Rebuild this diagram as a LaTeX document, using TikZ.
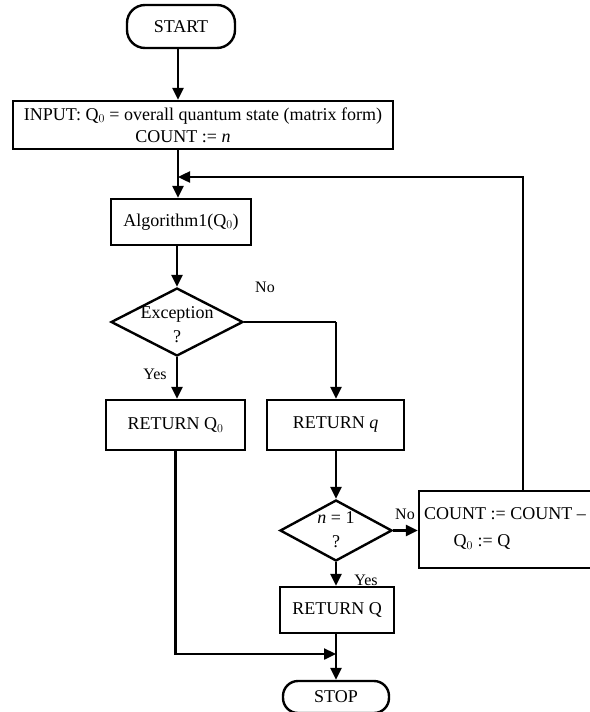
\documentclass[tikz,border=0pt]{standalone}
\usepackage{fontspec}
\setmainfont{Liberation Serif}
\usetikzlibrary{shapes.geometric,arrows.meta}
\begin{document}
\begin{tikzpicture}[x=1pt,y=-1pt,
  every node/.style={font=\fontsize{18}{24}\selectfont},
  box/.style={draw, line width=2.4pt, rectangle, inner sep=0pt},
  term/.style={draw, line width=2.4pt, rectangle, rounded corners=18pt, inner sep=0pt},
  dia/.style={draw, line width=2.4pt, diamond, inner sep=0pt},
  lbl/.style={inner sep=0pt, font=\fontsize{16}{18}\selectfont},
  arr/.style={line width=2.4pt, -{Triangle[length=12pt,width=11pt]}},
  ln/.style={line width=2.4pt}]
\useasboundingbox (0,0) rectangle (589,712);
% nodes
\node[term, minimum width=108pt, minimum height=43pt] (start) at (181,26.5) {START};
\node[box, minimum width=380pt, minimum height=48pt, align=center] (input) at (203,125)
  {INPUT: Q$_0$ = overall quantum state (matrix form)\\[-2pt]\hspace*{-40pt}COUNT := \textit{n}};
\node[box, minimum width=140pt, minimum height=46pt] (alg) at (181,222) {Algorithm1(Q$_0$)};
\node[dia, minimum width=132pt, minimum height=68pt] (exc) at (177,322) {};
\node[align=center, inner sep=0pt] (exct) at (177,325) {Exception\\?};
\node[box, minimum width=139pt, minimum height=50pt] (ret0) at (175.5,425) {RETURN Q$_0$};
\node[box, minimum width=137pt, minimum height=50pt] (retq) at (335.5,425) {RETURN \textit{q}};
\node[dia, minimum width=112pt, minimum height=61pt] (cnd) at (336,530.5) {};
\node[align=center, inner sep=0pt] (cndt) at (336,530) {\textit{n} = 1\\?};
\node[box, minimum width=186pt, minimum height=77pt] (count) at (512,529.5) {};
\node[anchor=west, inner sep=0pt] (countt1) at (424,514) {COUNT := COUNT –};
\node[inner sep=0pt] (countt2) at (482,542) {Q$_0$ := Q};
\node[box, minimum width=114pt, minimum height=46pt] (retQ) at (337,610) {RETURN Q};
\node[term, minimum width=106pt, minimum height=32pt, rounded corners=15pt] (stop) at (336,697) {STOP};
% coordinates
\coordinate (join) at (178,177);
\coordinate (loopx) at (523,177);
\coordinate (noturn) at (336,322);
\coordinate (merge) at (336,654);
% connectors
\draw[arr] (start.south -| join) -- (input.north -| join);
\draw[arr] (input.south -| join) -- (alg.north -| join);
\draw[arr] (alg.south -| exc) -- (exc.north);
\draw[arr] (exc.south) -- (ret0.north -| exc);
\draw[ln] (exc.east) -- (noturn);
\draw[arr] (noturn) -- (retq.north -| noturn);
\draw[arr] (retq.south -| cnd) -- (cnd.north);
\draw[arr] (cnd.east) -- (count.west |- cnd);
\draw[arr] (cnd.south) -- (retQ.north -| cnd);
\draw[arr] (count.north -| loopx) -- (loopx) -- (join);
\draw[arr] (ret0.south) |- (merge);
\draw[arr] (retQ.south -| stop) -- (stop.north);
% labels
\node[lbl] (lno1) at (265,287) {No};
\node[lbl] (lyes1) at (155,374) {Yes};
\node[lbl] (lno2) at (405,514) {No};
\node[lbl] (lyes2) at (366,580) {Yes};
\end{tikzpicture}
\end{document}
